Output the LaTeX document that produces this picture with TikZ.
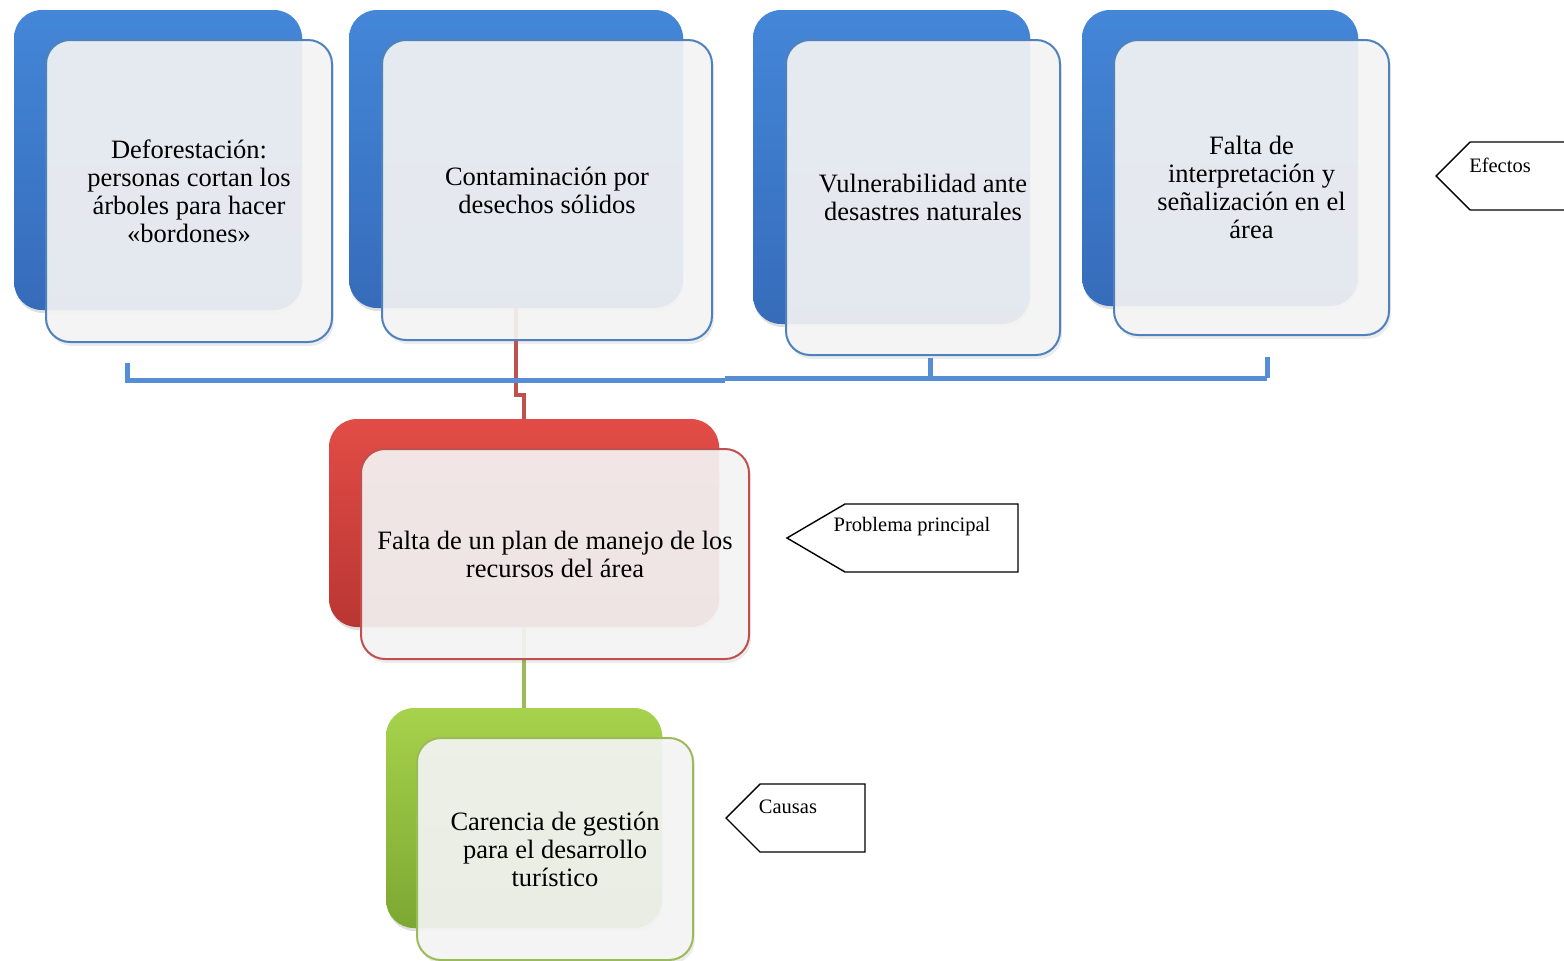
\documentclass[tikz,border=0pt]{standalone}
\usepackage{fontspec}
\setmainfont{Liberation Serif}
\usetikzlibrary{shadows}
\definecolor{bluetop}{RGB}{68,134,216}
\definecolor{bluebot}{RGB}{54,108,186}
\definecolor{blueline}{RGB}{79,129,189}
\definecolor{bracketblue}{RGB}{85,142,213}
\definecolor{redtop}{RGB}{226,76,70}
\definecolor{redbot}{RGB}{186,54,50}
\definecolor{redline}{RGB}{192,80,77}
\definecolor{greentop}{RGB}{166,210,76}
\definecolor{greenbot}{RGB}{124,168,50}
\definecolor{greenline}{RGB}{155,187,89}
\definecolor{frontfill}{RGB}{245,245,245}
\tikzset{
  backbox/.style n args={2}{rounded corners=28pt, inner sep=0pt, top color=#1, bottom color=#2,
    drop shadow={shadow xshift=1pt, shadow yshift=-3pt, opacity=0.25}},
  frontbox/.style={rounded corners=24pt, draw=#1, line width=2pt, fill=frontfill, fill opacity=0.91,
    text opacity=1, inner sep=0pt, align=center, font=\fontsize{26.5}{28}\selectfont,
    drop shadow={shadow xshift=2pt, shadow yshift=-4pt, opacity=0.15}},
  bracket/.style={draw=bracketblue, line width=5pt},
  callout/.style={draw=black, line width=1.4pt},
  callouttext/.style={font=\fontsize{20.5}{24}\selectfont, inner sep=0pt},
}
\begin{document}
\begin{tikzpicture}[x=1pt,y=-1pt]
\useasboundingbox (0,0) rectangle (1564,961);
% back boxes
\node[backbox={bluetop}{bluebot}, minimum width=288pt, minimum height=300pt] (b1) at (158,160) {};
\node[backbox={bluetop}{bluebot}, minimum width=334pt, minimum height=298pt] (b2) at (516,159) {};
\node[backbox={bluetop}{bluebot}, minimum width=277pt, minimum height=314pt] (b3) at (891.5,167) {};
\node[backbox={bluetop}{bluebot}, minimum width=276pt, minimum height=296pt] (b4) at (1220,158) {};
\node[backbox={redtop}{redbot}, minimum width=390pt, minimum height=208pt] (br) at (524,523) {};
\node[backbox={greentop}{greenbot}, minimum width=276pt, minimum height=220pt] (bg) at (524,818) {};
% connectors
\draw[redline, line width=3.5pt] (b2.south) -- ++(0,87) coordinate (rj) -| (br.north);
\draw[greenline, line width=3.5pt] (br.south) -- (bg.north);
% front boxes
\node[frontbox=blueline, minimum width=286pt, minimum height=302pt] (f1) at (189,191)
  {Deforestación:\\personas cortan los\\árboles para hacer\\«bordones»};
\node[frontbox=blueline, minimum width=330pt, minimum height=300pt] (f2) at (547,190)
  {Contaminación por\\desechos sólidos};
\node[frontbox=blueline, minimum width=274pt, minimum height=315pt] (f3) at (923,197.5)
  {Vulnerabilidad ante\\desastres naturales};
\node[frontbox=blueline, minimum width=275pt, minimum height=295pt] (f4) at (1251.5,187.5)
  {Falta de\\interpretación y\\señalización en el\\área};
\node[frontbox=redline, minimum width=388pt, minimum height=210pt] (fr) at (555,554)
  {Falta de un plan de manejo de los\\recursos del área};
\node[frontbox=greenline, minimum width=276pt, minimum height=222pt] (fg) at (555,849)
  {Carencia de gestión\\para el desarrollo\\turístico};
% bracket
\coordinate (k1t) at (127,363); \coordinate (k1b) at (127,380);
\coordinate (km) at (725,380); \coordinate (km2) at (725,378);
\coordinate (k2t) at (930,358); \coordinate (k2b) at (930,378);
\coordinate (k3t) at (1267,357); \coordinate (k3b) at (1267,378);
\draw[bracket] (k1t) -- (k1b) -- (km);
\draw[bracket] (km2) -- (k3b);
\draw[bracket] (k2t) -- (k2b);
\draw[bracket] (k3t) -- (k3b);
% callouts
\draw[callout] (1570,142) coordinate (e1) -- (1470,142) -- (1436,176) coordinate (etip) -- (1470,210) -- (1570,210);
\node[callouttext] (efectos) at (1500,165) {Efectos};
\draw[callout] (1018,504) coordinate (p1) -- (845,504) -- (787,538) coordinate (ptip) -- (845,572) -- (1018,572) -- cycle;
\node[callouttext] (problema) at (912,527) {Problema principal};
\draw[callout] (865,784) coordinate (c1) -- (760,784) -- (726,818) coordinate (ctip) -- (760,852) -- (865,852) -- cycle;
\node[callouttext] (causas) at (788,807) {Causas};
\end{tikzpicture}
\end{document}
